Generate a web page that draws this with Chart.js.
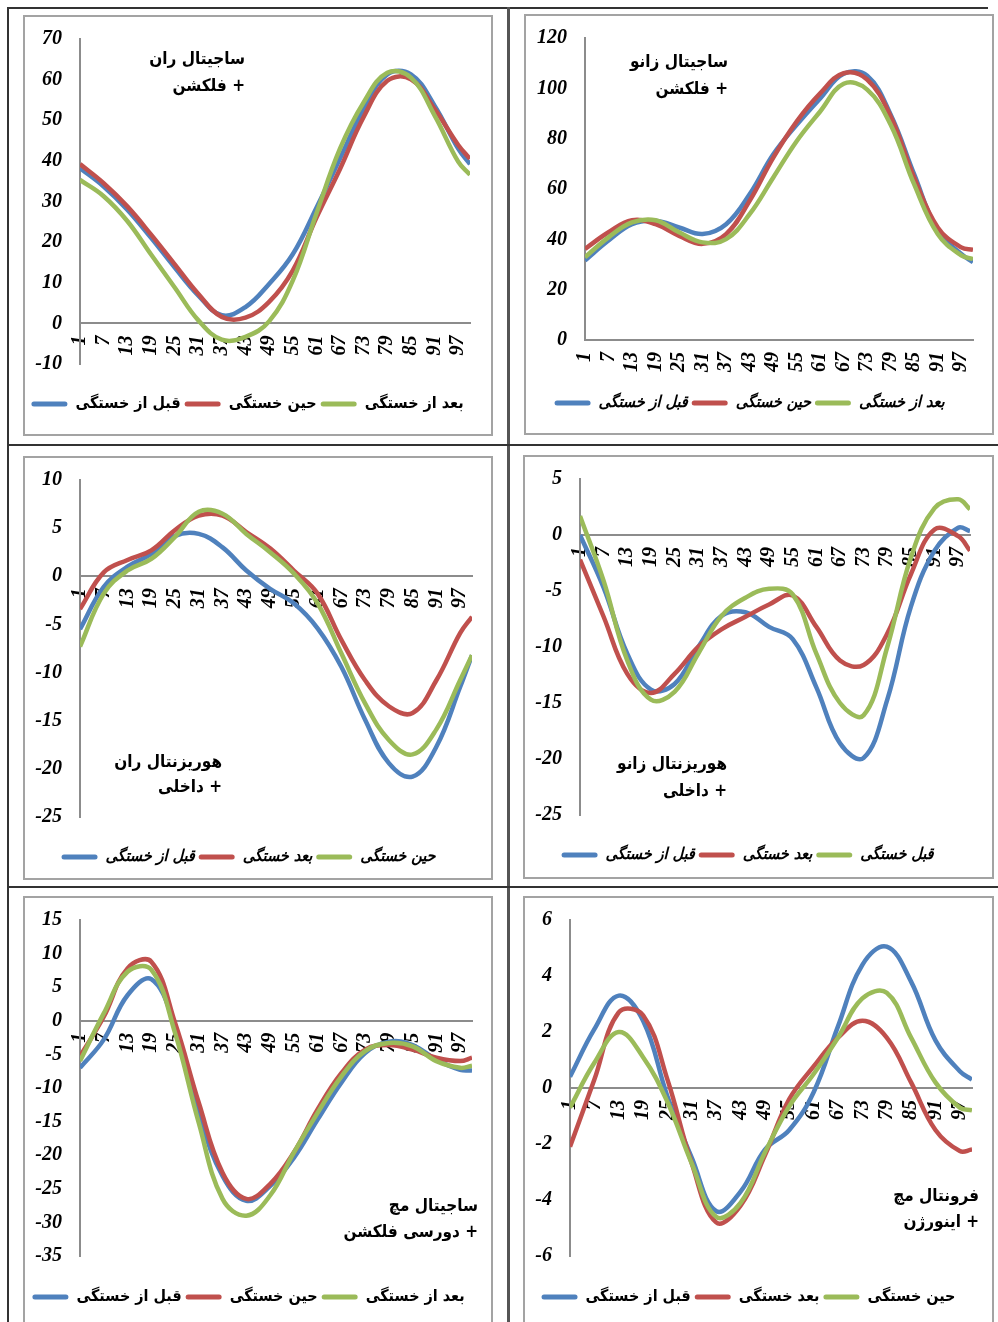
<!DOCTYPE html>
<html lang="fa">
<head>
<meta charset="utf-8">
<title>زوایای مفاصل</title>
<script src="https://cdn.jsdelivr.net/npm/chart.js@4.4.1/dist/chart.umd.min.js"></script>
<style>
html,body{margin:0;padding:0;background:#fff;overflow:hidden;}
body{width:998px;height:1322px;position:relative;}
.rule{position:absolute;background:#333;}
.box{position:absolute;border:2px solid #a3a3a3;box-sizing:border-box;background:#fff;}
.box canvas{display:block;}
</style>
</head>
<body>
<div class="rule" style="left:7px;top:7px;width:981px;height:2px"></div>
<div class="rule" style="left:7px;top:7px;width:2px;height:1315px"></div>
<div class="rule" style="left:507px;top:7px;width:3px;height:1315px;background:#555"></div>
<div class="rule" style="left:7px;top:444px;width:991px;height:2px"></div>
<div class="rule" style="left:7px;top:886px;width:991px;height:2px"></div>
<script>
// x positions (percent of cycle) and labelled ticks
const xPoints = [1,7,13,19,25,31,37,43,49,55,61,67,73,79,85,91,97,100];
const xTicks = [1,7,13,19,25,31,37,43,49,55,61,67,73,79,85,91,97];

// chart 1 - sagittal hip
const title1 = ["ساجیتال ران", "+ فلکشن"];
const legend1 = ["قبل از خستگی", "حین خستگی", "بعد از خستگی"];
const yTicks1 = [-10,0,10,20,30,40,50,60,70];
const blue1 = [38.2,33.7,28,21.1,13.8,6.9,2,4,9.7,17,28.4,40.6,52.8,61.3,61.3,53.6,43,39.2];
const red1 = [39.2,34.5,28.8,21.9,14.6,7.3,1.6,1.4,5.3,13,26,38,50.8,59.7,60.1,52.8,43.9,40.5];
const green1 = [35.3,31.3,25.2,17,8.9,0.8,-4,-3.3,0.5,10.5,27,43,54.4,61.7,60.5,51.2,39.8,36.6];

// chart 2 - sagittal knee
const title2 = ["ساجیتال زانو", "+ فلکشن"];
const legend2 = ["قبل از خستگی", "حین خستگی", "بعد از خستگی"];
const yTicks2 = [0,20,40,60,80,100,120];
const blue2 = [31.6,39.5,46,47.4,44.7,42.1,46,57.9,73.7,85.5,96,105.8,105,89.5,65.8,43.4,34.2,30.9];
const red2 = [36.2,42.8,47.6,46,41.4,38.2,42.1,55.3,72.4,86.8,98,106,103.5,88.8,64.5,44.7,36.8,35.8];
const green2 = [32.9,40.8,46.7,47.6,42.8,38.8,40.1,50,64.5,79,90.8,101.8,99.5,85.5,61.8,42.1,33.6,32.2];

// chart 3 - horizontal hip
const title3 = ["هوریزنتال ران", "+ داخلی"];
const legend3 = ["قبل از خستگی", "بعد خستگی", "حین خستگی"];
const yTicks3 = [-25,-20,-15,-10,-5,0,5,10];
const blue3 = [-5.5,-1.1,1,2.3,4.2,4.4,3,0.6,-1.3,-2.8,-5.4,-9.4,-14.9,-19.4,-20.8,-17.7,-11.5,-8.2];
const red3 = [-3.4,0.4,1.7,2.7,4.8,6.3,6.3,4.6,2.9,0.6,-1.8,-6.6,-10.8,-13.5,-14.2,-10.8,-5.9,-4.2];
const green3 = [-7.3,-1.8,0.6,1.8,4.1,6.7,6.5,4.4,2.5,0.3,-2.8,-8,-13.2,-17,-18.5,-15.9,-10.8,-8.2];

// chart 4 - horizontal knee
const title4 = ["هوریزنتال زانو", "+ داخلی"];
const legend4 = ["قبل از خستگی", "بعد خستگی", "قبل خستگی"];
const yTicks4 = [-25,-20,-15,-10,-5,0,5];
const blue4 = [0,-4.7,-10.6,-13.8,-13.3,-10,-7.2,-6.9,-8.2,-9.3,-13.6,-18.6,-19.9,-14.7,-6.4,-1.4,0.65,0.35];
const red4 = [-2.2,-7.3,-12.4,-14.1,-12.4,-10,-8.4,-7.3,-6.2,-5.4,-8.2,-11.2,-11.6,-8.8,-3.5,0.5,-0.1,-1.4];
const green4 = [1.7,-4.1,-11.2,-14.7,-14,-10.6,-7.2,-5.6,-4.8,-5.3,-10.6,-15,-16.1,-10,-2,2.4,3.2,2.3];

// chart 5 - sagittal ankle
const title5 = ["ساجیتال مچ", "+ دورسی فلکشن"];
const legend5 = ["قبل از خستگی", "حین خستگی", "بعد از خستگی"];
const yTicks5 = [-35,-30,-25,-20,-15,-10,-5,0,5,10,15];
const blue5 = [-7,-2.8,3.8,6.2,-0.8,-13.7,-23.1,-26.8,-24.6,-20.4,-14.7,-9.2,-4.8,-3.1,-3.6,-5.8,-7.3,-7.4];
const red5 = [-5.3,0.6,7.8,8.8,-0.3,-12.2,-22.6,-26.5,-24.3,-19.6,-13.2,-7.8,-4.3,-3.6,-4.3,-5.5,-6,-5.5];
const green5 = [-6,1.1,7.3,7.6,-1.8,-15.2,-26.5,-29,-26,-19.6,-13.7,-8.3,-4.5,-3.3,-3.8,-6,-7,-6.7];

// chart 6 - frontal ankle
const title6 = ["فرونتال مچ", "+ اینورژن"];
const legend6 = ["قبل از خستگی", "بعد خستگی", "حین خستگی"];
const yTicks6 = [-6,-4,-2,0,2,4,6];
const blue6 = [0.4,2.1,3.3,2.4,-0.3,-2.5,-4.4,-3.7,-2.2,-1.5,-0.15,2.2,4.4,5.05,3.8,1.7,0.6,0.3];
const red6 = [-2.1,0.3,2.7,2.6,0.3,-2.7,-4.8,-4.2,-2.4,-0.4,0.77,1.8,2.4,1.8,0.2,-1.5,-2.25,-2.2];
const green6 = [-0.7,0.9,2,1.1,-0.5,-2.7,-4.6,-4.1,-2.3,-0.65,0.5,1.8,3.2,3.4,1.8,0.2,-0.7,-0.8];

const colors = ["#4F81BD", "#C0504D", "#9BBB59"];
const axisColor = "#8c8c8c";
const tickFont = {family:'"Liberation Serif"', size:20, style:'italic', weight:'bold'};
const persianFamily = '"DejaVu Sans Condensed", "DejaVu Sans"';

// frame boxes in page pixels; plot = [left, right, top, bottom]
const frames = [
    {x:23, y:15, w:470, h:421, plot:[80,470,36,364], legendY:404, titleX:245, titleY:[60,87], italic:false},
    {x:524, y:14, w:470, h:421, plot:[585,973,36,340], legendY:403, titleX:728, titleY:[63,90], italic:true},
    {x:23, y:456, w:470, h:424, plot:[80,472,478,817], legendY:857, titleX:222, titleY:[763,788], italic:true},
    {x:523, y:455, w:471, h:424, plot:[580,970,477,815], legendY:855, titleX:727, titleY:[765,792], italic:true},
    {x:23, y:896, w:470, h:432, plot:[80,472,918,1256], legendY:1297, titleX:478, titleY:[1207,1233], italic:false},
    {x:523, y:896, w:471, h:432, plot:[570,972,917,1256], legendY:1297, titleX:979, titleY:[1197,1223], italic:false}
];

makeChart(frames[0], title1, legend1, [blue1, red1, green1], yTicks1);
makeChart(frames[1], title2, legend2, [blue2, red2, green2], yTicks2);
makeChart(frames[2], title3, legend3, [blue3, red3, green3], yTicks3);
makeChart(frames[3], title4, legend4, [blue4, red4, green4], yTicks4);
makeChart(frames[4], title5, legend5, [blue5, red5, green5], yTicks5);
makeChart(frames[5], title6, legend6, [blue6, red6, green6], yTicks6);

function cornerTitle(lines, x, ys){
    return {
        id:"cornerTitle",
        afterDraw(chart){
            const ctx = chart.ctx;
            ctx.save();
            ctx.font = "bold 17px " + persianFamily;
            ctx.fillStyle = "#000";
            ctx.direction = "rtl";
            ctx.textAlign = "right";
            ctx.textBaseline = "middle";
            lines.forEach((line,i)=>{
                ctx.fillText(line, x, ys[i]);
            });
            ctx.restore();
        }
    };
}

function makeChart(frame, title, labels, values, yTicks){

    const wrap = document.createElement("div");
    wrap.className = "box";
    wrap.style.left = frame.x + "px";
    wrap.style.top = frame.y + "px";
    wrap.style.width = frame.w + "px";
    wrap.style.height = frame.h + "px";

    const canvas = document.createElement("canvas");
    const cw = frame.w - 4;
    const ch = frame.h - 4;
    canvas.width = cw;
    canvas.height = ch;
    wrap.appendChild(canvas);
    document.body.appendChild(wrap);

    const ox = frame.x + 2;
    const oy = frame.y + 2;
    const [pl, pr, pt, pb] = frame.plot;

    // legend sits below the plot; an empty legend title makes the gap
    const legendSize = 16;
    const legendPad = 4;
    const gap = frame.legendY - pb - legendPad - legendSize / 2;
    const legendHeight = gap + legendSize + legendPad + 10;
    const padBottom = ch - (pb - oy) - legendHeight;

    new Chart(canvas, {
        type:"line",
        data:{
            datasets: values.map((v,k)=>({
                label: labels[k],
                data: v.map((y,j)=>({x: xPoints[j], y})),
                borderColor: colors[k],
                backgroundColor: colors[k],
                borderWidth: 4.5,
                pointRadius: 0,
                tension: 0.4,
                order: 3 - k
            }))
        },
        options:{
            responsive:false,
            animation:false,
            events:[],
            layout:{
                padding:{left:0, top: pt - oy, right: ox + cw - pr, bottom: padBottom}
            },
            scales:{
                x:{
                    type:"linear",
                    min:1,
                    max:100,
                    position:{y:0},
                    afterBuildTicks: a => { a.ticks = xTicks.map(v => ({value:v})); },
                    ticks:{autoSkip:false, maxRotation:90, minRotation:90, padding:4, color:"#000", font:tickFont},
                    grid:{display:false},
                    border:{color:axisColor, width:2}
                },
                y:{
                    type:"linear",
                    min: yTicks[0],
                    max: yTicks[yTicks.length - 1],
                    afterBuildTicks: a => { a.ticks = yTicks.map(v => ({value:v})); },
                    afterFit: s => { s.width = pl - ox; },
                    ticks:{padding:10, color:"#000", font:tickFont},
                    grid:{display:false},
                    border:{color:axisColor, width:2}
                }
            },
            plugins:{
                tooltip:{enabled:false},
                legend:{
                    position:"bottom",
                    title:{display:true, text:"", font:{size:10, lineHeight:1}, padding:{top: gap - 10, bottom:0}},
                    labels:{
                        boxWidth:36,
                        boxHeight:5,
                        useBorderRadius:true,
                        borderRadius:2.5,
                        padding:legendPad,
                        color:"#000",
                        font:{family:persianFamily, size:legendSize, weight:"bold", style: frame.italic ? "italic" : "normal"},
                        sort:(a,b) => a.datasetIndex - b.datasetIndex,
                        generateLabels: chart =>
                            Chart.defaults.plugins.legend.labels.generateLabels(chart)
                            .map(item => Object.assign(item, {lineWidth:0}))
                    }
                }
            }
        },
        plugins:[cornerTitle(title, frame.titleX - ox, frame.titleY.map(y => y - oy))]
    });
}
</script>
</body>
</html>
